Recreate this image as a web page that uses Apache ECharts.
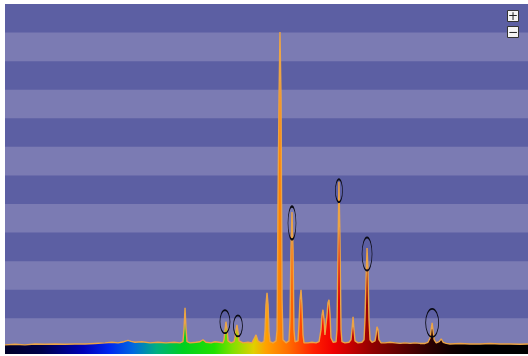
<!DOCTYPE html>
<html>
<head>
<meta charset="utf-8">
<script src="https://cdn.jsdelivr.net/npm/echarts@6/dist/echarts.min.js"></script>
<style>
  html, body { margin: 0; padding: 0; background: #ffffff; }
  #chart { width: 528px; height: 356px; }
</style>
</head>
<body>
<div id="chart"></div>
<script>
// Emission spectrum, wavelength (nm) against relative intensity
const wavelengths = [
  380.0, 387.6, 395.3, 402.9, 410.6, 418.2, 425.9, 433.5, 441.2, 448.8, 456.5, 461.8, 466.4, 471.0, 474.1, 476.4, 479.4, 484.8, 490.9, 497.0, 503.1, 509.3, 513.8,
  516.1, 516.9, 517.7, 518.4, 519.2,
  521.5, 526.1, 529.1, 531.4, 533.7, 537.5, 540.6, 542.1, 543.7, 546.7,
  547.5, 548.3, 549.0, 549.8, 550.6,
  552.9, 555.2,
  555.9, 556.7, 557.4, 558.2, 559.0,
  562.0, 565.9, 568.9, 570.4, 572.0, 573.5, 575.8, 578.1,
  578.9, 579.6, 580.4, 581.2, 581.9, 582.7,
  585.0, 587.3,
  588.1, 588.8, 589.6, 590.3, 591.1, 591.9, 592.6,
  594.9, 597.2,
  598.0, 598.7, 599.5, 600.3, 601.0, 601.8,
  604.1,
  604.8, 605.6, 606.4, 607.1, 607.9, 608.7,
  611.7, 614.8, 617.9, 620.2,
  621.7, 622.5, 623.2, 624.0, 624.7,
  625.5, 626.3, 627.0, 627.8, 628.6, 629.3, 630.9,
  633.2, 633.9,
  634.7, 635.4, 636.2, 637.0, 637.7,
  640.0, 643.1, 644.6,
  645.4, 646.2, 646.9, 647.7,
  650.0, 653.0, 654.6,
  655.3, 656.1, 656.9, 657.6, 658.4, 659.2,
  660.7, 663.0,
  663.8, 664.5, 665.3, 666.0, 667.6,
  670.6, 674.5, 678.3, 682.1, 685.9, 689.8, 693.6, 697.4, 701.2, 703.5,
  705.2, 705.9, 706.7, 707.5, 708.2, 709.8, 712.1, 713.6, 715.2, 717.5,
  720.3, 728.0, 735.6, 743.3, 750.9, 758.6, 766.2, 773.9, 780.0
];
const intensities = [
  7, 9, 7, 10, 9, 10, 9, 10, 10, 12, 14, 16, 14, 18, 23, 19, 16, 18, 14, 16, 14, 16, 14,
  18, 60, 137, 66, 18,
  14, 16, 18, 25, 16, 14, 18, 25, 16, 14,
  25, 60, 88, 60, 21,
  14, 18,
  32, 60, 77, 52, 21,
  14, 16, 14, 21, 42, 21, 14, 18,
  60, 147, 189, 147, 52, 18,
  14, 21,
  60, 515, 875, 1102, 875, 165, 25,
  14, 21,
  95, 340, 472, 340, 60, 18,
  21,
  77, 165, 200, 147, 42, 14,
  14, 16, 14, 18,
  60, 112, 130, 95, 42,
  39, 112, 154, 165, 112, 32, 16,
  18, 60,
  340, 578, 374, 60, 18,
  14, 16, 25,
  60, 105, 60, 21,
  14, 16, 25,
  95, 234, 346, 270, 95, 25,
  16, 21,
  42, 70, 60, 25, 14,
  14, 16, 14, 12, 14, 12, 14, 12, 12, 16,
  32, 60, 84, 52, 25, 14, 18, 28, 16, 12,
  10, 12, 10, 10, 12, 10, 10, 9, 10
];

// Lines singled out with a ring
const markedLines = [549.0, 557.4, 599.5, 635.4, 656.9, 706.7];

// Lower edges of the lighter horizontal bands
const lightBands = [0, 200, 400, 600, 800, 1000];
const bandHeight = 100;

const X_MIN = 380, X_MAX = 780, Y_MIN = -25, Y_MAX = 1200;

const spectrum = wavelengths.map((w, i) => [w, intensities[i]]);

function valueAt(w) {
  const i = wavelengths.indexOf(w);
  return intensities[i];
}

// Ring size and nudge for each marked line, in pixels
const ringStyle = [
  { size: [10, 23], offset: [-1, 0] },
  { size: [9, 21], offset: [1, 1] },
  { size: [8, 33], offset: [0, 11] },
  { size: [7, 23], offset: [0, 9] },
  { size: [10, 33], offset: [0, 6] },
  { size: [13, 28], offset: [0, 0] }
];

const ringPath = 'path://M0,50 A50,50 0 1,1 100,50 A50,50 0 1,1 0,50 Z';

const chart = echarts.init(document.getElementById('chart'), null, { renderer: 'canvas' });

// Zoom buttons in the top right corner
function zoomButton(y, glyph) {
  return [
    { type: 'rect', z: 100, shape: { x: 507.5, y: y + 0.5, width: 11, height: 11 }, style: { fill: '#f4f4f4', stroke: '#333333', lineWidth: 1 } },
    { type: 'text', z: 101, x: 513, y: y + 6.5, style: { text: glyph, fill: '#222222', font: '12px "DejaVu Sans"', align: 'center', verticalAlign: 'middle' } }
  ];
}

chart.setOption({
  animation: false,
  backgroundColor: '#ffffff',
  grid: {
    left: 5, right: 0, top: 4, bottom: 2,
    show: true,
    backgroundColor: '#5c5fa3',
    borderWidth: 0
  },
  xAxis: {
    type: 'value', min: X_MIN, max: X_MAX,
    show: false
  },
  yAxis: {
    type: 'value', min: Y_MIN, max: Y_MAX,
    show: false
  },
  series: [
    {
      type: 'custom',
      silent: true,
      z: 0,
      data: lightBands.map(b => [b, b + bandHeight]),
      encode: { x: -1, y: [0, 1] },
      renderItem: function (params, api) {
        const lo = api.value(0), hi = api.value(1);
        const p1 = api.coord([X_MIN, hi]);
        const p2 = api.coord([X_MAX, lo]);
        return {
          type: 'rect',
          shape: { x: p1[0], y: p1[1], width: p2[0] - p1[0], height: p2[1] - p1[1] },
          style: { fill: '#7b7bb3' }
        };
      }
    },
    {
      type: 'line',
      z: 2,
      data: spectrum,
      showSymbol: false,
      symbol: 'none',
      sampling: 'none',
      lineStyle: { color: '#eca445', width: 1.4 },
      areaStyle: {
        origin: 'start',
        opacity: 1,
        color: {
          type: 'linear', x: 0, y: 0, x2: 1, y2: 0,
          colorStops: [
            { offset: 0.00, color: '#000028' },
            { offset: 0.07, color: '#00004a' },
            { offset: 0.15, color: '#0000b8' },
            { offset: 0.20, color: '#0028f0' },
            { offset: 0.245, color: '#0068e0' },
            { offset: 0.29, color: '#00b080' },
            { offset: 0.34, color: '#00d020' },
            { offset: 0.40, color: '#20e000' },
            { offset: 0.435, color: '#80e000' },
            { offset: 0.475, color: '#e0d000' },
            { offset: 0.50, color: '#ffa000' },
            { offset: 0.54, color: '#ff7000' },
            { offset: 0.59, color: '#ff2000' },
            { offset: 0.627, color: '#f00000' },
            { offset: 0.665, color: '#c00000' },
            { offset: 0.703, color: '#900000' },
            { offset: 0.755, color: '#600000' },
            { offset: 0.807, color: '#300000' },
            { offset: 0.85, color: '#100000' },
            { offset: 0.90, color: '#000000' },
            { offset: 1.00, color: '#000000' }
          ]
        }
      },
      markPoint: {
        silent: true,
        symbol: ringPath,
        label: { show: false },
        itemStyle: { color: 'rgba(0,0,0,0)', borderColor: '#0a0a14', borderWidth: 1.2 },
        data: markedLines.map((w, i) => ({
          coord: [w, valueAt(w)],
          symbolSize: ringStyle[i].size,
          symbolOffset: ringStyle[i].offset
        }))
      }
    }
  ],
  graphic: [].concat(zoomButton(10, '+'), zoomButton(26, '\u2212'))
});
</script>
</body>
</html>
